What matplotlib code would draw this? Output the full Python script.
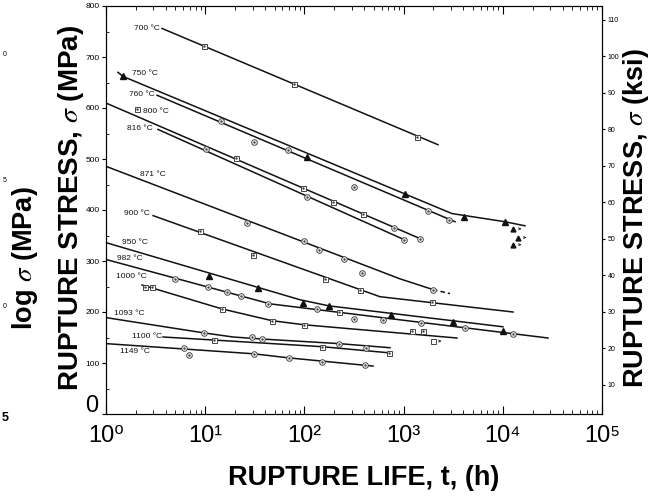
import numpy as np
import matplotlib.pyplot as plt

plt.rcParams['font.family'] = ['Liberation Sans', 'DejaVu Sans']
plt.rcParams['mathtext.fontset'] = 'stix'

# rupture life t (h) and rupture stress (MPa) along each curve
t700 = [3.67, 2222]
s700 = [756, 528]
t750 = [1.32, 1.48, 3076, 10520, 16740]
s750 = [670, 662, 393, 377, 369]
t760 = [3.27, 3300]
s760 = [625, 377]
t800 = [1.02, 1463]
s800 = [609, 344]
t816 = [3.34, 1009]
s816 = [558, 342]
t871 = [1.02, 920, 1978]
s871 = [485, 265, 244]
t871_ext = [1978, 2935]
s871_ext = [244, 236]
t900 = [2.98, 363, 578, 12670]
s900 = [389, 244, 230, 200]
t950 = [1.0, 90.3, 177, 10050]
s950 = [336, 224, 212, 171]
t982 = [1.0, 45, 28570]
s982 = [303, 216, 149]
t1000 = [2.31, 14.8, 47.1, 99, 3450]
s1000 = [253, 206, 183, 175, 149]
t1093 = [1.0, 9.72, 19.1, 37.4, 223, 729]
s1093 = [189, 159, 151, 147, 138, 130]
t1100 = [3.76, 12.3, 150, 712]
s1100 = [151, 145, 132, 120]
t1149 = [1.0, 31, 70, 492]
s1149 = [138, 118, 110, 94]

# test points
circ_t = [14.4, 31.0, 68.4, 316, 1762, 2870,
          800, 1463,
          10.2, 106, 1009,
          26.4, 99, 140, 251, 381, 1978,
          4.96, 10.7, 16.6, 23.0, 43.0, 134, 316, 620, 1497, 4159, 12670,
          9.72, 29.6, 37.4, 223, 418,
          6.11, 6.87, 31.0, 70.0, 150, 408]
circ_s = [574, 534, 517, 446, 399, 381,
          365, 344,
          519, 426, 342,
          375, 340, 322, 303, 277, 244,
          265, 250, 240, 232, 216, 206, 187, 185, 179, 169, 157,
          159, 151, 147, 138, 130,
          130, 116, 118, 110, 102, 96]
sq_t = [9.7, 78.5, 1364,
        2.05, 20.4, 96.8, 194, 390,
        8.87, 30.3, 161, 363, 1933,
        223,
        2.47, 2.91, 14.8, 47.1, 99, 1216, 1570,
        12.3, 150, 712]
sq_s = [721, 648, 544,
        599, 501, 444, 415, 393,
        358, 312, 265, 244, 220,
        200,
        250, 250, 206, 183, 175, 163, 163,
        145, 132, 120]
tri_t = [1.48, 1033, 4063, 10520,
         106,
         10.9, 34.1, 96.8, 177, 746, 3150,
         10050]
tri_s = [662, 432, 387, 377,
         503,
         271, 248, 218, 212, 195, 181,
         163]
# unbroken specimens (arrows)
run_tri_t = [12670, 14230, 12670]
run_tri_s = [363, 346, 332]
run_sq_t = [1978]
run_sq_s = [143]

temps = ['700 °C', '750 °C', '760 °C', '800 °C', '816 °C', '871 °C', '900 °C',
         '950 °C', '982 °C', '1000 °C', '1093 °C', '1100 °C', '1149 °C']
label_t = [3.5, 3.34, 3.12, 2.36, 2.98, 2.2, 2.78, 2.65, 2.36, 2.59, 2.47, 3.67, 2.78]
label_s = [756, 668, 627, 593, 560, 470, 393, 336, 305, 269, 198, 151, 122]
label_ha = ['right', 'right', 'right', 'left', 'right', 'left', 'right',
            'right', 'right', 'right', 'right', 'right', 'right']

fig = plt.figure(figsize=(6.57, 4.99), dpi=100)
ax = fig.add_axes([106/657, 1 - 414/499, 496/657, 408/499])

lc = '#111111'
for t, s in [(t700, s700), (t750, s750), (t760, s760), (t800, s800), (t816, s816),
             (t871, s871), (t900, s900), (t950, s950), (t982, s982), (t1000, s1000),
             (t1093, s1093), (t1100, s1100), (t1149, s1149)]:
    ax.plot(t, s, color=lc, lw=1.1)
ax.plot(t871_ext, s871_ext, color=lc, lw=1.1, ls=(0, (3, 2)))

mc = '#444444'
ax.plot(circ_t, circ_s, 'o', ms=4, mfc='white', mec=mc, mew=0.7)
ax.plot(circ_t, circ_s, '.', ms=1.5, color=mc)
ax.plot(sq_t, sq_s, 's', ms=3.6, mfc='white', mec=mc, mew=0.7)
ax.plot(sq_t, sq_s, '.', ms=1.5, color=mc)
ax.plot(tri_t, tri_s, '^', ms=4, color=lc)
ax.plot(run_tri_t, run_tri_s, '^', ms=3.5, color=lc)
ax.plot(run_sq_t, run_sq_s, 's', ms=3.6, mfc='white', mec=mc, mew=0.7)
for t, s in zip(run_tri_t + run_sq_t, run_tri_s + run_sq_s):
    ax.annotate('', xy=(t * 1.3, s), xytext=(t * 1.07, s),
                arrowprops=dict(arrowstyle='->', lw=0.5, color=lc, mutation_scale=4))

for lab, t, s, ha in zip(temps, label_t, label_s, label_ha):
    ax.text(t, s, lab, fontsize=6, ha=ha, va='center', color=lc)

ax.set_xscale('log')
ax.set_xlim(1, 1e5)
ax.set_ylim(0, 800)
ax.set_xticks([1, 10, 100, 1e3, 1e4, 1e5])
ax.set_xticklabels(['10⁰', '10¹', '10²', '10³', '10⁴', '10⁵'], fontsize=17)
ax.xaxis.set_minor_locator(plt.LogLocator(subs=np.arange(2, 10)))
ax.xaxis.set_minor_formatter(plt.NullFormatter())
ax.tick_params(axis='x', which='major', direction='in', top=True, length=6, pad=8)
ax.tick_params(axis='x', which='minor', direction='in', top=True, length=3)
ax.set_yticks(np.arange(0, 801, 100))
ax.set_yticklabels([''] + [str(v) for v in range(100, 801, 100)], fontsize=6)
ax.set_yticks(np.arange(50, 800, 100), minor=True)
ax.tick_params(axis='y', which='major', direction='out', length=3, pad=1.5)
ax.tick_params(axis='y', which='minor', direction='in', length=2)
for sp in ax.spines.values():
    sp.set_linewidth(0.8)

ax2 = ax.twinx()
ax2.set_ylim(2.05, 113.8)
ax2.set_yticks(np.arange(10, 111, 10))
ax2.set_yticklabels([str(v) for v in range(10, 111, 10)], fontsize=5)
ax2.tick_params(axis='y', direction='out', length=2.5, pad=1.5)
for sp in ax2.spines.values():
    sp.set_linewidth(0.8)

fig.text(92/657, 1 - 406/499, '0', fontsize=17, ha='center', va='center')
fig.text(71/657, 1 - 208/499, r'RUPTURE STRESS, $\sigma$ (MPa)', fontsize=20,
         fontweight='bold', rotation=90, ha='center', va='center')
fig.text(636/657, 1 - 218/499, r'RUPTURE STRESS, $\sigma$ (ksi)', fontsize=19.5,
         fontweight='bold', rotation=90, ha='center', va='center')
fig.text(364/657, 1 - 478/499, 'RUPTURE LIFE, t, (h)', fontsize=19.5,
         fontweight='bold', ha='center', va='center')
fig.text(25/657, 1 - 258/499, r'log $\sigma$ (MPa)', fontsize=19.5,
         fontweight='bold', rotation=90, ha='center', va='center')

# outer log-stress scale, only last digits show at the edge
for lab, y, fs, fw in [('0', 55, 5, 'normal'), ('5', 180, 5, 'normal'),
                       ('0', 307, 5, 'normal'), ('5', 418, 9, 'bold')]:
    fig.text(5/657, 1 - y/499, lab, fontsize=fs, fontweight=fw, ha='center', va='center')

fig.savefig('out.png', dpi=100)
